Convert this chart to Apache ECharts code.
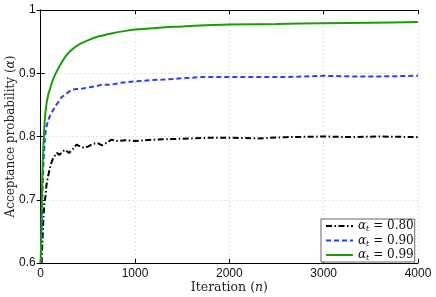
<!DOCTYPE html>
<html><head><meta charset="utf-8">
<script src="https://cdn.jsdelivr.net/npm/echarts@6/dist/echarts.min.js"></script>
<style>html,body{margin:0;padding:0;background:#fff}#c{width:436px;height:297px}</style>
</head><body><div id="c"></div>
<script>
// tick labels
const xTicks = [0, 1000, 2000, 3000, 4000];
const yTicks = [0.6, 0.7, 0.8, 0.9, 1];
const legendNames = ['0.80', '0.90', '0.99'];

// alpha_t = 0.80 (black, dash-dot)
const nBlack = [0, 10, 20, 30, 40, 50, 60, 75, 90, 110, 130, 150, 170, 200, 230, 260, 300, 340, 380, 420, 460, 500, 550, 600, 650, 700, 750, 800, 900, 1000, 1200, 1400, 1600, 1800, 2000, 2300, 2600, 3000, 3300, 3600, 4000];
const vBlack = [0.56, 0.60, 0.64, 0.675, 0.695, 0.705, 0.722, 0.735, 0.745, 0.757, 0.765, 0.762, 0.774, 0.771, 0.776, 0.779, 0.774, 0.780, 0.787, 0.784, 0.782, 0.784, 0.788, 0.790, 0.786, 0.790, 0.795, 0.793, 0.794, 0.793, 0.795, 0.796, 0.797, 0.798, 0.798, 0.797, 0.799, 0.800, 0.799, 0.800, 0.799];

// alpha_t = 0.90 (blue, dashed)
const nBlue = [0, 10, 20, 30, 45, 60, 80, 100, 125, 150, 180, 220, 260, 300, 330, 380, 450, 520, 600, 650, 750, 850, 1000, 1150, 1300, 1500, 1700, 2000, 2300, 2600, 3000, 3300, 3600, 4000];
const vBlue = [0.60, 0.66, 0.72, 0.76, 0.80, 0.815, 0.826, 0.833, 0.840, 0.847, 0.853, 0.862, 0.866, 0.871, 0.874, 0.875, 0.876, 0.878, 0.880, 0.882, 0.882, 0.885, 0.887, 0.889, 0.890, 0.892, 0.894, 0.894, 0.894, 0.894, 0.896, 0.895, 0.895, 0.896];

// alpha_t = 0.99 (green, solid)
const nGreen = [0, 5, 10, 15, 20, 30, 45, 60, 80, 100, 130, 170, 210, 260, 320, 400, 500, 610, 750, 900, 1000, 1250, 1500, 1750, 2000, 2500, 3000, 3500, 4000];
const vGreen = [0.60, 0.64, 0.68, 0.72, 0.75, 0.79, 0.83, 0.85, 0.866, 0.876, 0.890, 0.903, 0.914, 0.926, 0.936, 0.945, 0.952, 0.958, 0.963, 0.967, 0.969, 0.972, 0.974, 0.976, 0.977, 0.978, 0.979, 0.980, 0.981];

const pairs = (xs, ys) => xs.map((x, i) => [x, ys[i]]);
const serif = 'DejaVu Serif';
const sans = 'Liberation Sans';

const chart = echarts.init(document.getElementById('c'), null, {renderer: 'canvas'});
const xBase = {type: 'value', min: xTicks[0], max: xTicks[xTicks.length - 1], interval: xTicks[1] - xTicks[0]};
const yBase = {type: 'value', min: yTicks[0], max: yTicks[yTicks.length - 1], interval: 0.1};
chart.setOption({
  animation: false,
  backgroundColor: '#fff',
  grid: {left: 40.7, right: 18, top: 10, bottom: 34, containLabel: false, outerBoundsMode: 'none'},
  xAxis: [
    Object.assign({}, xBase, {
      position: 'bottom',
      name: 'Iteration ({i|n})', nameLocation: 'middle', nameGap: 18, nameMoveOverlap: false,
      nameTextStyle: {fontFamily: serif, fontSize: 12.5, color: '#222',
        rich: {i: {fontFamily: serif, fontStyle: 'italic', fontSize: 12.5, color: '#222'}}},
      axisLine: {lineStyle: {color: '#000', width: 1}},
      axisTick: {inside: true, length: 4, lineStyle: {color: '#000'}},
      axisLabel: {fontFamily: sans, fontSize: 12, color: '#111', margin: 5, formatter: v => String(v)},
      splitLine: {show: true, lineStyle: {color: '#c8c8c8', type: [1, 3], width: 1}}
    }),
    Object.assign({}, xBase, {
      position: 'top',
      axisLine: {lineStyle: {color: '#000', width: 1}},
      axisTick: {inside: true, length: 4, lineStyle: {color: '#000'}},
      axisLabel: {show: false}, splitLine: {show: false}
    })
  ],
  yAxis: [
    Object.assign({}, yBase, {
      position: 'left',
      name: 'Acceptance probability ({i|α})', nameLocation: 'middle', nameGap: 24, nameMoveOverlap: false,
      nameTextStyle: {fontFamily: serif, fontSize: 12, color: '#222',
        rich: {i: {fontFamily: serif, fontStyle: 'italic', fontSize: 12, color: '#222'}}},
      axisLine: {lineStyle: {color: '#000', width: 1}},
      axisTick: {inside: true, length: 4, lineStyle: {color: '#000'}},
      axisLabel: {fontFamily: sans, fontSize: 12, color: '#111', margin: 5,
        formatter: v => String(Math.round(v * 10) / 10)},
      splitLine: {show: true, lineStyle: {color: '#c8c8c8', type: [1, 3], width: 1}}
    }),
    Object.assign({}, yBase, {
      position: 'right',
      axisLine: {lineStyle: {color: '#000', width: 1}},
      axisTick: {inside: true, length: 4, lineStyle: {color: '#000'}},
      axisLabel: {show: false}, splitLine: {show: false}
    })
  ],
  legend: {
    left: 321, top: 219, orient: 'vertical',
    itemWidth: 27, itemHeight: 7, itemGap: 0.5,
    padding: [0, 1, 0, 4],
    itemStyle: {opacity: 0},
    backgroundColor: '#fff', borderColor: '#666', borderWidth: 1, borderRadius: 0,
    data: legendNames,
    formatter: name => '{a|α}{s|t}{b| = ' + name + '}',
    textStyle: {
      fontFamily: serif, fontSize: 12, color: '#111', lineHeight: 7.5,
      rich: {
        a: {fontFamily: serif, fontStyle: 'italic', fontSize: 12, lineHeight: 7.5, color: '#111'},
        s: {fontFamily: serif, fontStyle: 'italic', fontSize: 8, lineHeight: 7.5, padding: [6, 0, 0, 0], color: '#111'},
        b: {fontFamily: serif, fontSize: 12, lineHeight: 7.5, color: '#111'}
      }
    }
  },
  series: [
    {name: legendNames[0], type: 'line', data: pairs(nBlack, vBlack), showSymbol: false, symbol: 'none',
      lineStyle: {color: '#000', width: 2, type: [6, 2.5, 1.5, 2.5]}, itemStyle: {color: '#000'}},
    {name: legendNames[1], type: 'line', data: pairs(nBlue, vBlue), showSymbol: false, symbol: 'none',
      lineStyle: {color: '#2b3df5', width: 2, type: [5, 3]}, itemStyle: {color: '#2b3df5'}},
    {name: legendNames[2], type: 'line', data: pairs(nGreen, vGreen), showSymbol: false, symbol: 'none', smooth: 0.3,
      lineStyle: {color: '#1c9c0c', width: 2, type: 'solid'}, itemStyle: {color: '#1c9c0c'}}
  ]
});
</script></body></html>
